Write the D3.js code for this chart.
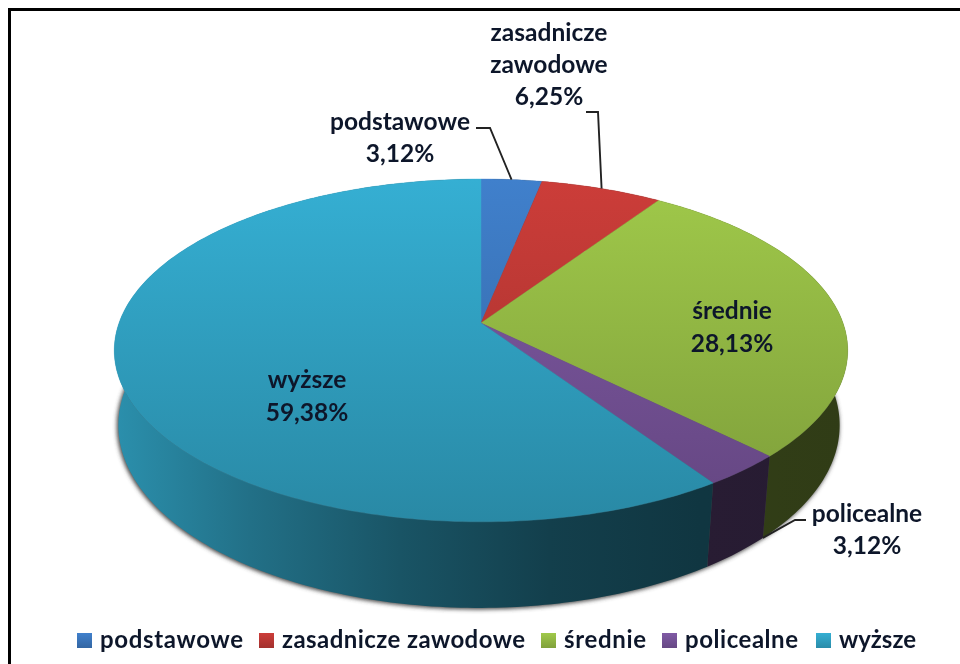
<!DOCTYPE html>
<html>
<head>
<meta charset="utf-8">
<script src="https://cdn.jsdelivr.net/npm/d3@7"></script>
<style>
  html, body { margin: 0; padding: 0; background: #fff; overflow: hidden; }
  text { font-family: Lato, "Open Sans", sans-serif; font-weight: 700; fill: #10192b; }
</style>
</head>
<body>
<svg id="chart" width="960" height="664"></svg>
<script>
// data
var categories = ["podstawowe", "zasadnicze zawodowe", "średnie", "policealne", "wyższe"];
var shares = [3.12, 6.25, 28.13, 3.12, 59.38];
var colors = ["#4080cc", "#cc3d39", "#a0c94a", "#805aa5", "#35afd3"];

// layout
var width = 960, height = 664;
var legendX = [77, 259, 541, 662, 816];
var legendWidth = [143, 243, 82, 113, 77];
var k = 0.16;
var topRim = {cx: 481, cy: 323, rx: 362, ry: 167};
var bottomRim = {cx: 479, cy: 396, rx: 356, ry: 178};

var svg = d3.select("#chart");
var defs = svg.append("defs");

defs.append("filter").attr("id", "soft")
    .append("feGaussianBlur").attr("stdDeviation", 0.35);
defs.append("filter").attr("id", "shadow")
    .attr("x", "-5%").attr("y", "-5%").attr("width", "110%").attr("height", "110%")
    .append("feGaussianBlur").attr("stdDeviation", 2.2);

// perspective view of a circle, angle clockwise from the top
function project(angle, rim) {
    var u = Math.sin(angle), v = -Math.cos(angle);
    var w = 1 - k * v;
    return [rim.cx + rim.rx * u / w, rim.cy + rim.ry * v / w];
}

function arcPoints(a0, a1, rim) {
    var n = Math.max(2, Math.ceil(Math.abs(a1 - a0) * 60));
    return d3.range(n + 1).map(function(i) {
        return project(a0 + (a1 - a0) * i / n, rim);
    });
}

var line = d3.line();
var slices = d3.pie().sort(null).value(function(d) { return d; })(shares);

// colour gradients, one for the top face and one for the side wall
var wallX = [113, 250, 400, 550, 700, 848];
var wallShade = [0.82, 0.64, 0.48, 0.36, 0.31, 0.30];

colors.forEach(function(c, i) {
    var g = defs.append("linearGradient").attr("id", "top" + i)
        .attr("gradientUnits", "userSpaceOnUse")
        .attr("x1", 0).attr("x2", 0).attr("y1", 179).attr("y2", 522);
    g.append("stop").attr("offset", 0).attr("stop-color", c);
    g.append("stop").attr("offset", 1).attr("stop-color", d3.interpolateRgb(c, "#000")(0.22));

    var s = defs.append("linearGradient").attr("id", "wall" + i)
        .attr("gradientUnits", "userSpaceOnUse")
        .attr("x1", 113).attr("x2", 848).attr("y1", 0).attr("y2", 0);
    wallX.forEach(function(x, j) {
        s.append("stop").attr("offset", (x - 113) / (848 - 113))
            .attr("stop-color", d3.interpolateRgb("#000", c)(wallShade[j]));
    });

    var b = defs.append("linearGradient").attr("id", "swatch" + i)
        .attr("x1", 0).attr("x2", 0).attr("y1", 0).attr("y2", 1);
    b.append("stop").attr("offset", 0).attr("stop-color", c);
    b.append("stop").attr("offset", 1).attr("stop-color", d3.interpolateRgb(c, "#000")(0.2));
});

// frame
svg.append("rect").attr("x", 8).attr("y", 8).attr("width", width - 8).attr("height", 3).attr("fill", "#000");
svg.append("rect").attr("x", 8).attr("y", 8).attr("width", 3).attr("height", height - 8).attr("fill", "#000");

// shadow under the pie
svg.append("path")
    .attr("d", line(arcPoints(0, 2 * Math.PI, bottomRim)) + "Z")
    .attr("transform", "translate(-1,1)")
    .attr("fill", "#444").attr("stroke", "#444").attr("stroke-width", 1)
    .attr("filter", "url(#shadow)");

// side walls
svg.append("g").selectAll("path")
    .data(slices)
    .join("path")
    .attr("d", function(d) {
        var upper = arcPoints(d.startAngle, d.endAngle, topRim);
        var lower = arcPoints(d.endAngle, d.startAngle, bottomRim);
        return line(upper.concat(lower)) + "Z";
    })
    .attr("fill", function(d, i) { return "url(#wall" + i + ")"; });

// top faces
svg.append("g").selectAll("path")
    .data(slices)
    .join("path")
    .attr("d", function(d) {
        return line([[topRim.cx, topRim.cy]].concat(arcPoints(d.startAngle, d.endAngle, topRim))) + "Z";
    })
    .attr("fill", function(d, i) { return "url(#top" + i + ")"; })
    .attr("stroke", function(d, i) { return "url(#top" + i + ")"; })
    .attr("stroke-width", 0.4);

// leader lines
var midAngle = function(i) { return (slices[i].startAngle + slices[i].endAngle) / 2; };
var leaders = [
    [[476, 128], [490, 128], project(midAngle(0), topRim)],
    [[586, 112], [598, 112], project(midAngle(1), topRim)],
    [[806, 520], [795, 520], project(slices[3].startAngle, bottomRim)]
];
svg.append("g").selectAll("path")
    .data(leaders)
    .join("path")
    .attr("d", line)
    .attr("fill", "none").attr("stroke", "#222").attr("stroke-width", 1.9);

// data labels
function pct(v) { return v.toFixed(2).replace(".", ",") + "%"; }
var labels = [
    {lines: ["podstawowe", pct(shares[0])], x: 400, y: 130, lead: 32},
    {lines: ["zasadnicze", "zawodowe", pct(shares[1])], x: 549, y: 41, lead: 32},
    {lines: ["średnie", pct(shares[2])], x: 732, y: 319, lead: 33},
    {lines: ["policealne", pct(shares[3])], x: 867, y: 522, lead: 32},
    {lines: ["wyższe", pct(shares[4])], x: 307, y: 388, lead: 33}
];
var labelG = svg.append("g").attr("filter", "url(#soft)");
labels.forEach(function(l) {
    l.lines.forEach(function(t, i) {
        labelG.append("text")
            .attr("x", l.x).attr("y", l.y + i * l.lead)
            .attr("text-anchor", "middle")
            .attr("font-size", 24.5)
            .text(t);
    });
});

// legend
var legend = svg.append("g").selectAll("g")
    .data(categories)
    .join("g")
    .attr("transform", function(d, i) { return "translate(" + legendX[i] + ",0)"; });
legend.append("rect")
    .attr("y", 633).attr("width", 15).attr("height", 15)
    .attr("fill", function(d, i) { return "url(#swatch" + i + ")"; });
legend.append("text")
    .attr("x", 23).attr("y", 648)
    .attr("font-size", 24)
    .attr("filter", "url(#soft)")
    .attr("textLength", function(d, i) { return legendWidth[i]; })
    .attr("lengthAdjust", "spacing")
    .text(function(d) { return d; });
</script>
</body>
</html>
